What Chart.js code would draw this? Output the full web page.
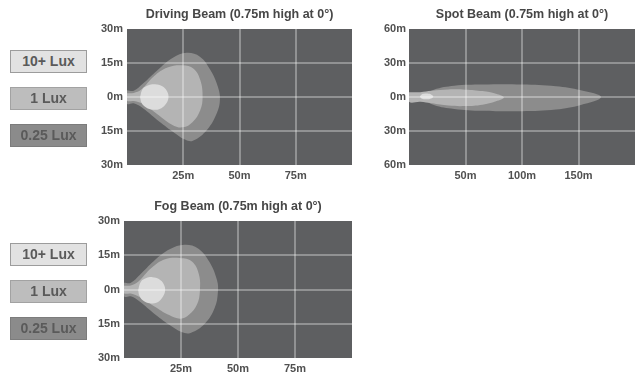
<!DOCTYPE html>
<html><head><meta charset="utf-8">
<script src="https://cdn.jsdelivr.net/npm/chart.js@4/dist/chart.umd.min.js"></script>
<style>
html,body{margin:0;padding:0;background:#fff;width:642px;height:376px;overflow:hidden;position:relative;font-family:"Liberation Sans",Arial,sans-serif;}
canvas{position:absolute;}
.lg{position:absolute;left:10px;width:77px;height:23px;box-sizing:border-box;border:1.5px solid #9c9c9c;text-align:center;line-height:20px;font-size:14px;font-weight:bold;color:#5a5a5a;}
</style></head>
<body>
<canvas id="c1" width="280" height="190" style="left:80px;top:0px"></canvas>
<canvas id="c2" width="282" height="190" style="left:360px;top:0px"></canvas>
<canvas id="c3" width="280" height="186" style="left:80px;top:190px"></canvas>
<div id="legends"></div>
<script>
// ---- legend ----
const luxLabels = ['10+ Lux', '1 Lux', '0.25 Lux'];
const luxColors = ['#dcdcdc', '#b4b4b4', '#8c8c8c'];

// ---- titles ----
const titles = ['Driving Beam (0.75m high at 0°)', 'Spot Beam (0.75m high at 0°)', 'Fog Beam (0.75m high at 0°)'];

// ---- tick labels ----
const drivingXLabels = ['', '25m', '50m', '75m', ''];
const drivingYLabels = ['30m', '15m', '0m', '15m', '30m'];
const spotXLabels = ['', '50m', '100m', '150m', ''];
const spotYLabels = ['60m', '30m', '0m', '30m', '60m'];
const fogXLabels = ['', '25m', '50m', '75m', ''];
const fogYLabels = ['30m', '15m', '0m', '15m', '30m'];

// ---- beam outlines [distance m, lateral m] ----
const drivingInner = [[5.8,0],[7,3.6],[9.5,5.2],[12.5,5.6],[15.5,4.8],[17.8,2.5],[18.4,-0.5],[17,-3.4],[14.5,-5.3],[11.5,-5.6],[8.5,-4.6],[6.5,-2.6],[5.8,0]];
const drivingMid = [[0,1.6],[3,1.8],[6.2,3.2],[12,9.2],[18,13],[24.6,14],[29.6,12.5],[32.6,7.4],[33.6,0],[32.5,-6],[29.2,-11],[24.8,-13.4],[20,-12.2],[13.5,-7.6],[7.5,-3.2],[3,-1.8],[0,-1.6],[0,1.6]];
const drivingOuter = [[0,3],[3,2.8],[7,5.8],[13.3,11.6],[20.4,17.3],[26.5,19.5],[32.4,17.8],[37,12],[40.4,4.5],[41.3,-1.2],[40,-6.9],[35.6,-14.4],[29.3,-19.3],[25.8,-18.8],[20.4,-15.3],[13.3,-10],[7.1,-5],[3,-2.8],[0,-3],[0,3]];

const spotInner = [[9.5,0.5],[11.2,2.3],[15.2,3],[19.5,2.3],[21.5,0.5],[19.5,-1.3],[15.2,-2],[11.2,-1.3],[9.5,0.5]];
const spotMid = [[0,4.2],[10,4.3],[20,5.5],[35,6.6],[50,6.5],[65,5.2],[77,2.8],[84,-0.5],[77,-3.8],[65,-6.8],[50,-8],[35,-7.6],[20,-5.6],[10,-4.3],[0,-4.2],[0,4.2]];
const spotOuter = [[12,1],[22,6.5],[40,10],[65,11],[100,11],[130,9.5],[152,6],[170,0],[152,-7],[130,-11],[100,-12.5],[65,-12.2],[40,-10.5],[22,-7],[12,-1],[12,1]];

const fogInner = [[6.2,-0.3],[7.4,3.4],[9.8,5],[12.5,5.4],[15.3,4.6],[17.5,2.2],[18,-0.8],[16.6,-3.8],[14.2,-5.8],[11.3,-6],[8.5,-4.9],[6.8,-2.8],[6.2,-0.3]];
const fogMid = [[0,1.6],[3,1.8],[6.2,3.4],[12,9.4],[18,13.2],[24.5,13.8],[29.8,12.3],[32.8,6.8],[33.3,-0.5],[32,-6.6],[28.6,-11],[24.8,-12.8],[19.8,-11.2],[13,-7.2],[7,-3.4],[3,-1.8],[0,-1.6],[0,1.6]];
const fogOuter = [[0,3],[3,3],[7,6.5],[13,12.4],[20,17.6],[26.5,19.6],[32.5,18],[37.5,12],[40.8,4],[41.2,-1],[39.8,-8],[35.4,-15],[29.2,-19],[25.2,-18.6],[20,-15.6],[13,-10.4],[7,-5.4],[3,-3],[0,-3],[0,3]];

// ---- styling ----
const BG = '#5e5f61';
const GRID = 'rgba(255,255,255,0.32)';
const FONT = '"Liberation Sans", Arial, sans-serif';
const TEXT = '#505050';

// legends (HTML)
const legendTops = [[50, 87, 124], [243, 280, 317]];
const legendFills = ['#e2e2e2', '#bdbdbd', '#8b8b8b'];
const legendBorders = ['#9c9c9c', '#a2a2a2', '#7c7c7c'];
const lgHost = document.getElementById('legends');
legendTops.forEach(set => set.forEach((t, i) => {
  const d = document.createElement('div');
  d.className = 'lg';
  d.style.top = t + 'px';
  d.style.background = legendFills[i];
  d.style.borderColor = legendBorders[i];
  d.textContent = luxLabels[i];
  lgHost.appendChild(d);
}));

const plotBg = {
  id: 'plotBg',
  beforeDraw(chart) {
    const {ctx, chartArea: a} = chart;
    ctx.save();
    ctx.fillStyle = BG;
    ctx.fillRect(a.left, a.top, a.width, a.height);
    ctx.restore();
  }
};

function beamChart(id, title, shapes, xMax, xStep, xLabels, yMax, yStep, yLabels, g) {
  const datasets = shapes.map((s, i) => ({
    data: s.map(p => ({x: p[0], y: p[1]})),
    backgroundColor: luxColors[i],
    borderColor: 'transparent',
    borderWidth: 0,
    pointRadius: 0,
    tension: 0.4,
    fill: 'shape'
  }));
  return new Chart(document.getElementById(id), {
    type: 'line',
    data: {datasets},
    plugins: [plotBg],
    options: {
      responsive: false,
      animation: false,
      layout: {padding: {left: 0, right: g.padR, top: 0, bottom: 0}},
      plugins: {
        legend: {display: false},
        tooltip: {enabled: false},
        title: {
          display: true, text: title, fullSize: false, color: '#474747',
          font: {family: FONT, size: 12.5, weight: 'bold'},
          padding: {top: g.tTop, bottom: g.tBot}
        }
      },
      scales: {
        x: {
          type: 'linear', min: 0, max: xMax,
          afterFit: s => { s.height = g.xh; },
          ticks: {stepSize: xStep, autoSkip: false, maxRotation: 0, padding: g.xPad, color: TEXT,
            font: {family: FONT, size: 11, weight: 'bold'},
            callback: (v, i) => xLabels[i]},
          grid: {z: 1, lineWidth: 2, drawTicks: false,
            color: c => (c.tick && (c.tick.value === 0 || c.tick.value === xMax)) ? 'transparent' : GRID},
          border: {display: false}
        },
        y: {
          type: 'linear', min: -yMax, max: yMax,
          afterFit: s => { s.width = g.yw; },
          ticks: {stepSize: yStep, autoSkip: false, padding: g.yPad, color: TEXT,
            font: {family: FONT, size: 11, weight: 'bold'},
            callback: (v, i) => yLabels[i]},
          grid: {z: 1, lineWidth: 2, drawTicks: false,
            color: c => (c.tick && Math.abs(c.tick.value) === yMax) ? 'transparent' : GRID},
          border: {display: false}
        }
      }
    }
  });
}

beamChart('c1', titles[0], [drivingInner, drivingMid, drivingOuter], 100, 25, drivingXLabels, 30, 15, drivingYLabels,
  {yw: 47, padR: 8, tTop: 7, tBot: 7, xh: 25, xPad: 4, yPad: 4});
beamChart('c2', titles[1], [spotInner, spotMid, spotOuter], 200, 50, spotXLabels, 60, 30, spotYLabels,
  {yw: 49, padR: 7, tTop: 7, tBot: 7, xh: 25, xPad: 4, yPad: 3});
beamChart('c3', titles[2], [fogInner, fogMid, fogOuter], 100, 25, fogXLabels, 30, 15, fogYLabels,
  {yw: 44, padR: 8, tTop: 9, tBot: 7, xh: 18, xPad: 4, yPad: 4});
</script>
</body></html>
